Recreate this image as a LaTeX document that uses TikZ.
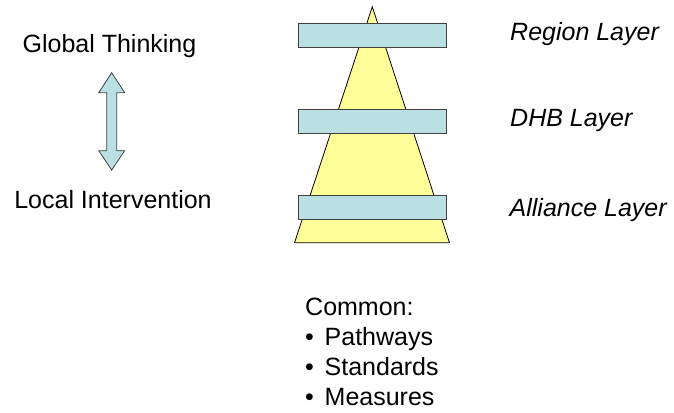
\documentclass[tikz,border=0pt]{standalone}
\usepackage{fontspec}
\setmainfont{Liberation Sans}
\definecolor{barfill}{RGB}{187,224,227}
\definecolor{barline}{RGB}{64,64,64}
\definecolor{pyrfill}{RGB}{255,255,153}
\begin{document}
\begin{tikzpicture}[x=1pt,y=-1pt,
  txt/.style={font=\fontsize{25}{30}\selectfont, inner sep=0pt},
  layertxt/.style={txt, font=\fontsize{25}{30}\selectfont\itshape, anchor=base west},
  listtxt/.style={txt, anchor=base west},
  layerbar/.style={draw=barline, fill=barfill, line width=0.9pt,
    minimum width=147.4pt, minimum height=24.2pt, inner sep=0pt, anchor=north west},
  pyramid/.style={draw=black, fill=pyrfill, line width=0.8pt, line join=miter},
  blockarrow/.style={draw=barline, fill=barfill, line width=0.8pt, line join=miter}]
\useasboundingbox (0,0) rectangle (674,412);

% pyramid behind the layer bars
\draw[pyramid] (372.3,6.7) -- (449.5,242.8) -- (294.5,242.8) -- cycle;

% layer bars
\node[layerbar] (regionbar)   at (298.3,23.3)  {};
\node[layerbar] (dhbbar)      at (298.3,109.0) {};
\node[layerbar] (alliancebar) at (298.3,195.0) {};

% layer names
\node[layertxt] (regiontxt)   at (510,40.7)  {Region Layer};
\node[layertxt] (dhbtxt)      at (510,126.7) {DHB Layer};
\node[layertxt] (alliancetxt) at (509.5,216.7) {Alliance Layer};

% global/local scale with a double block arrow
\node[txt, anchor=base] (global) at (109.5,52.3)  {Global Thinking};
\node[txt, anchor=base] (local)  at (113,208.3)   {Local Intervention};
\draw[blockarrow] (111.7,72.7) -- (124.7,92.7) -- (116.7,92.7) -- (116.7,150.7)
  -- (124.7,150.7) -- (111.7,170) -- (98.7,150.7) -- (106.7,150.7)
  -- (106.7,92.7) -- (98.7,92.7) -- cycle;

% shared elements
\node[listtxt] (common)    at (305,315)   {Common:};
\node[listtxt] (pathways)  at (305,345.3) {\makebox[19.5pt][l]{\textbullet}Pathways};
\node[listtxt] (standards) at (305,375.6) {\makebox[19.5pt][l]{\textbullet}Standards};
\node[listtxt] (measures)  at (305,405)   {\makebox[19.5pt][l]{\textbullet}Measures};
\end{tikzpicture}
\end{document}
